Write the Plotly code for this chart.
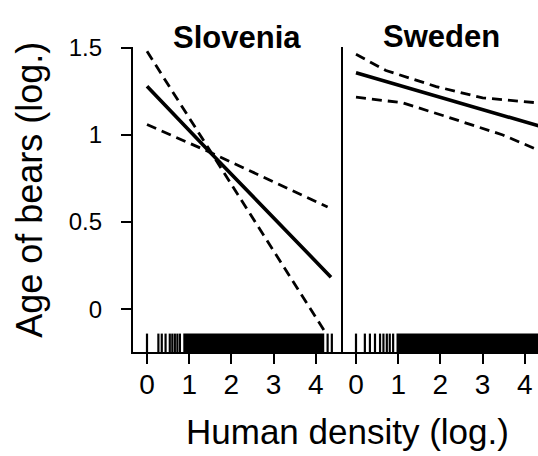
import plotly.graph_objects as go

# ---------------- data ----------------
panels = ["Slovenia", "Sweden"]

slo_x = [0.0, 1.5, 4.36]
slo_fit = [1.28, 0.90, 0.184]
slo_steep_x = [0.0, 1.5, 4.2]
slo_steep = [1.48, 0.91, -0.123]
slo_shallow_x = [0.0, 1.5, 4.28]
slo_shallow = [1.06, 0.90, 0.587]

swe_x = [0.0, 1.0, 2.0, 3.0, 4.0, 4.4]
swe_fit = [1.357, 1.287, 1.216, 1.146, 1.075, 1.047]
swe_up_x = [0.0, 0.71, 1.9, 3.0, 4.28, 4.4]
swe_up = [1.463, 1.37, 1.278, 1.213, 1.185, 1.183]
swe_lo_x = [0.0, 1.1, 2.21, 3.48, 4.28, 4.4]
swe_lo = [1.217, 1.185, 1.10, 1.00, 0.917, 0.903]

# rug (observed human density values)
slo_rug_sparse = [0.0, 0.27, 0.35, 0.44, 0.54, 0.60, 0.66, 0.72, 0.78, 4.28, 4.38]
slo_rug_dense = (0.86, 4.2)
swe_rug_sparse = [0.0, 0.21, 0.33, 0.45, 0.57, 0.65, 0.73, 0.80, 0.88]
swe_rug_dense = (0.96, 4.6)

x_ticks = [0, 1, 2, 3, 4]
y_ticks = [0, 0.5, 1, 1.5]
y_ticklabels = ["0", "0.5", "1", "1.5"]

x_title = "Human density (log.)"
y_title = "Age of bears (log.)"

# ---------------- figure ----------------
W, H = 538, 456
FONT = "Liberation Sans, Arial, sans-serif"

fig = go.Figure()

dash = "10px,6px"
def add_line(x, y, xa, ya, width, dashstyle=None):
    fig.add_trace(go.Scatter(
        x=x, y=y, xaxis=xa, yaxis=ya, mode="lines",
        line=dict(color="black", width=width, dash=dashstyle),
        showlegend=False, hoverinfo="skip"))

add_line(slo_steep_x, slo_steep, "x", "y", 2.8, dash)
add_line(slo_shallow_x, slo_shallow, "x", "y", 2.8, dash)
add_line(slo_x, slo_fit, "x", "y", 3.6)

add_line(swe_up_x, swe_up, "x2", "y2", 2.8, dash)
add_line(swe_lo_x, swe_lo, "x2", "y2", 2.8, dash)
add_line(swe_x, swe_fit, "x2", "y2", 3.6)

ppu = 42.2  # px per x unit
xl0, xl1, xr0 = 133, 343, 343
ybot, ytop = 349, 35

rug_h = 19 / (ybot - ytop)
shapes = []
for xref, yref, sparse, dense in [("x", "y domain", slo_rug_sparse, slo_rug_dense),
                                  ("x2", "y2 domain", swe_rug_sparse, swe_rug_dense)]:
    for v in sparse:
        shapes.append(dict(type="line", xref=xref, yref=yref, x0=v, x1=v, y0=0, y1=rug_h,
                           line=dict(color="black", width=2.2)))
    shapes.append(dict(type="rect", xref=xref, yref=yref, x0=dense[0], x1=dense[1], y0=0, y1=rug_h,
                       line=dict(width=0), fillcolor="black"))

axis_common = dict(showgrid=False, zeroline=False, showline=True, linecolor="black", linewidth=2.4,
                   ticks="outside", ticklen=10, tickwidth=2.4, tickcolor="black",
                   tickfont=dict(family=FONT, size=28, color="black"))

fig.update_layout(
    width=W, height=H, autosize=False,
    margin=dict(l=0, r=0, t=0, b=0),
    paper_bgcolor="white", plot_bgcolor="white",
    shapes=shapes,
    xaxis=dict(domain=[xl0 / W, xl1 / W], range=[(xl0 - 147) / ppu, (xl1 - 147) / ppu],
               tickvals=x_ticks, anchor="y", ticklabelstandoff=-4, **axis_common),
    xaxis2=dict(domain=[xr0 / W, 1], range=[(xr0 - 356) / ppu, (W - 356) / ppu],
                tickvals=x_ticks, anchor="y2", ticklabelstandoff=-4, **axis_common),
    yaxis=dict(domain=[(H - ybot) / H, (H - ytop) / H], range=[-0.246, 1.505],
               tickvals=y_ticks, ticktext=y_ticklabels, anchor="x", ticklabelstandoff=14,
               **{**axis_common, "tickfont": dict(family=FONT, size=24, color="black")}),
    yaxis2=dict(domain=[(H - ybot) / H, (H - ytop) / H], range=[-0.246, 1.505],
                anchor="x2", showticklabels=False, showgrid=False, zeroline=False,
                showline=True, linecolor="black", linewidth=2.4, ticks=""),
)

ann = [
    dict(text="<b>" + panels[0] + "</b>", x=237 / W, y=1 - 25 / H, font=dict(size=31)),
    dict(text="<b>" + panels[1] + "</b>", x=441 / W, y=1 - 24 / H, font=dict(size=31)),
    dict(text=x_title, x=347 / W, y=1 - 431 / H, font=dict(size=35)),
    dict(text=y_title, x=30 / W, y=1 - 182 / H, font=dict(size=36), textangle=-90),
]
for a in ann:
    a.update(xref="paper", yref="paper", showarrow=False, xanchor="center", yanchor="middle")
    a["font"].update(family=FONT, color="black")
fig.update_layout(annotations=ann)

fig.write_html("out.html", config={"displayModeBar": False},
               post_script="document.body.style.margin='0';document.body.style.overflow='hidden';")
